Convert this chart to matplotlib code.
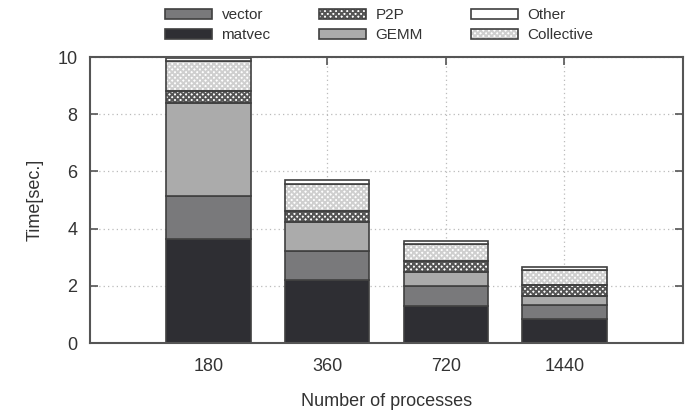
import numpy as np
import matplotlib
matplotlib.use("Agg")
import matplotlib.pyplot as plt

plt.rcParams['font.family'] = ['Liberation Sans', 'DejaVu Sans']
plt.rcParams['hatch.linewidth'] = 1.4

# data
procs = ["180", "360", "720", "1440"]
matvec = [3.64, 2.21, 1.30, 0.84]
vector = [1.49, 1.02, 0.68, 0.50]
gemm = [3.26, 0.99, 0.49, 0.29]
p2p = [0.41, 0.38, 0.38, 0.41]
collective = [1.05, 0.97, 0.62, 0.52]
other = [0.12, 0.12, 0.08, 0.10]

txt = '#333333'
edge = '#404040'

fig = plt.figure(figsize=(6.95, 4.12), dpi=100)
ax = fig.add_axes([90/695, 1 - 343/412, (683-90)/695, (343-57)/412])

x = np.arange(len(procs))
w = 0.71
bottom = np.zeros(len(procs))

# (label, values, face, hatch, hatch color)
layers = [
    ("matvec", matvec, '#2e2e33', None, None),
    ("vector", vector, '#79797b', None, None),
    ("GEMM", gemm, '#ababab', None, None),
    ("P2P", p2p, 'white', 'xxxxxx', '#555555'),
    ("Collective", collective, 'white', 'xxxxxx', '#cfcfcf'),
    ("Other", other, 'white', None, None),
]
handles = {}
for name, vals, fc, hatch, hc in layers:
    if hatch:
        # hatch pattern first, outline on top
        ax.bar(x, vals, w, bottom=bottom, color=fc, hatch=hatch,
               edgecolor=hc, linewidth=0, zorder=2)
        ax.bar(x, vals, w, bottom=bottom, fill=False, edgecolor=edge,
               linewidth=1.2, zorder=3)
        h = plt.Rectangle((0, 0), 1, 1, facecolor=fc, hatch=hatch,
                          edgecolor=hc, linewidth=0)
        ho = plt.Rectangle((0, 0), 1, 1, fill=False, edgecolor=edge, linewidth=1.2)
        handles[name] = (h, ho)
    else:
        b = ax.bar(x, vals, w, bottom=bottom, color=fc, edgecolor=edge,
                   linewidth=1.2, zorder=3)
        handles[name] = b
    bottom += np.array(vals)

ax.set_xlim(-1, 4)
ax.set_ylim(0, 10)
ax.set_xticks(x)
ax.set_xticklabels(procs)
ax.set_yticks([0, 2, 4, 6, 8, 10])
ax.grid(True, linestyle=(0, (1, 2.5)), color='#bbbbbb', linewidth=0.9, zorder=0)
ax.set_axisbelow(True)

ax.tick_params(direction='in', length=6, width=1.2, color='#555555',
               top=True, right=True, labelsize=13, labelcolor=txt)
ax.tick_params(axis='x', pad=11)
ax.tick_params(axis='y', pad=9)
for s in ax.spines.values():
    s.set_color('#555555')
    s.set_linewidth(1.5)
    s.set_zorder(4)

ax.set_ylabel("Time[sec.]", fontsize=13, color=txt, labelpad=10)
ax.set_xlabel("Number of processes", fontsize=13, color=txt, labelpad=13)

order = ["vector", "matvec", "P2P", "GEMM", "Other", "Collective"]
leg = fig.legend([handles[n] for n in order], order, ncol=3,
                 loc='upper left', bbox_to_anchor=(165/695, 1 - 8/412),
                 frameon=False, fontsize=11, handlelength=3.1, handleheight=0.65,
                 handletextpad=0.6, columnspacing=3.15, labelspacing=0.4,
                 borderpad=0, borderaxespad=0)
for t in leg.get_texts():
    t.set_color(txt)

fig.savefig("out.png", dpi=100)
